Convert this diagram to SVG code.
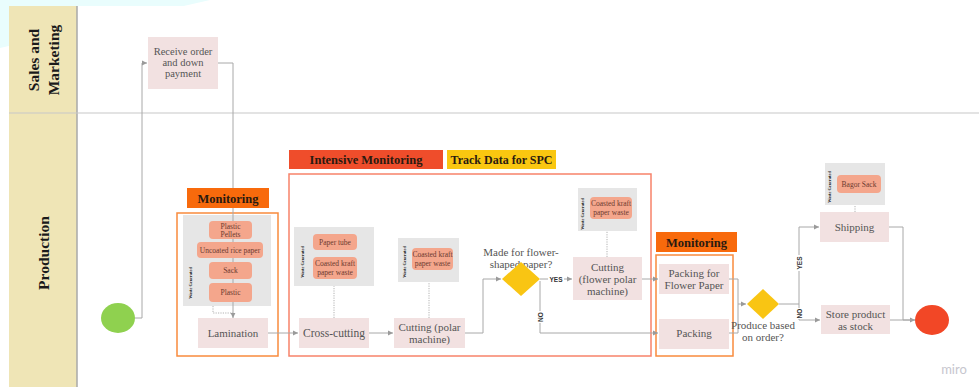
<svg xmlns="http://www.w3.org/2000/svg" width="979" height="387" viewBox="0 0 979 387">
  <defs>
    <style>
      .lane-head { fill: #efe5b6; }
      .lane-title { font-family: "Liberation Serif", serif; font-weight: bold; font-size: 15.5px; fill: #1a1a1a; text-anchor: middle; }
      .step { fill: #f2e1e1; }
      .step-text { font-family: "Liberation Serif", serif; font-size: 11px; fill: #555; text-anchor: middle; }
      .q-text { font-family: "Liberation Serif", serif; font-size: 11px; fill: #555; text-anchor: middle; }
      .waste { fill: #e6e6e6; }
      .waste-title { font-family: "Liberation Serif", serif; font-weight: bold; font-size: 4.3px; fill: #222; text-anchor: middle; }
      .item { fill: #f4a68c; }
      .item-text { font-family: "Liberation Serif", serif; font-size: 7.5px; fill: #6b3a30; text-anchor: middle; }
      .tag-text { font-family: "Liberation Serif", serif; font-weight: bold; font-size: 12.5px; fill: #2a1a10; text-anchor: middle; }
      .flow { fill: none; stroke: #a8a8a8; stroke-width: 1; }
      .dots { fill: none; stroke: #a0a0a0; stroke-width: 0.8; stroke-dasharray: 1.2 1.2; }
      .branch { font-family: "Liberation Sans", sans-serif; font-weight: bold; font-size: 6.5px; fill: #333; text-anchor: middle; }
      .decision { fill: #f9c513; }
    </style>
    <marker id="arrow" markerUnits="userSpaceOnUse" markerWidth="6" markerHeight="6" refX="5" refY="3" orient="auto">
      <path d="M0,0.6 L5,3 L0,5.4 z" fill="#9a9a9a"/>
    </marker>
  </defs>

  <!-- page backdrop -->
  <rect x="0" y="0" width="979" height="387" fill="#ffffff"/>
  <polygon points="0,0 210,0 0,48" fill="#e9fdfd"/>

  <!-- swimlanes -->
  <g id="lanes">
    <rect x="77" y="6" width="902" height="381" fill="#ffffff"/>
    <rect class="lane-head" x="9" y="6" width="68" height="381"/>
    <line x1="77" y1="6" x2="77" y2="387" stroke="#a9a9a9" stroke-width="1.5"/>
    <line x1="9" y1="113" x2="979" y2="113" stroke="#c8c8c8" stroke-width="1.2"/>
    <g transform="translate(39,60) rotate(-90)">
      <text class="lane-title" x="0" y="0">Sales and</text>
      <text class="lane-title" x="0" y="19.5">Marketing</text>
    </g>
    <text class="lane-title" transform="translate(49,253) rotate(-90)" x="0" y="0">Production</text>
  </g>

  <!-- monitoring zones -->
  <g id="zone-monitoring-1">
    <rect x="177" y="213" width="101" height="143" fill="none" stroke="#f98b3d" stroke-width="1.5"/>
  </g>
  <g id="zone-intensive">
    <rect x="289" y="174" width="362" height="182" fill="none" stroke="#f7826a" stroke-width="1.5"/>
  </g>
  <g id="zone-monitoring-2">
    <rect x="656" y="255" width="77" height="101" fill="none" stroke="#f98b3d" stroke-width="1.5"/>
  </g>

  <!-- connectors -->
  <g id="connectors">
    <path class="flow" d="M135,318 H142 V63 H147" marker-end="url(#arrow)"/>
    <path class="flow" d="M218,63 H233 V318" marker-end="url(#arrow)"/>
    <path class="flow" d="M268,333 H298" marker-end="url(#arrow)"/>
    <path class="flow" d="M369,333 H393" marker-end="url(#arrow)"/>
    <path class="flow" d="M465,333 H483 V279 H501" marker-end="url(#arrow)"/>
    <path class="flow" d="M540,279 H572" marker-end="url(#arrow)"/>
    <path class="flow" d="M540,281 V333 H658" marker-end="url(#arrow)"/>
    <path class="flow" d="M642,279 H658" marker-end="url(#arrow)"/>
    <path class="flow" d="M729,279 H738 V304 H746" marker-end="url(#arrow)"/>
    <path class="flow" d="M729,333 H738 V304"/>
    <path class="flow" d="M779,304 H799 V227 H819" marker-end="url(#arrow)"/>
    <path class="flow" d="M799,304 V320 H820" marker-end="url(#arrow)"/>
    <path class="flow" d="M889,227 H903 V320 H915" marker-end="url(#arrow)"/>
    <path class="flow" d="M890,320 H915"/>
    <!-- waste links -->
    <path class="dots" d="M213,306 V313 H233"/>
    <path class="dots" d="M334,318 V286"/>
    <path class="dots" d="M335,250 V257"/>
    <path class="dots" d="M429,318 V282"/>
    <path class="dots" d="M607,257 V231"/>
    <path class="dots" d="M855,212 V205"/>
    <!-- branch labels -->
    <rect x="548" y="275" width="16" height="8" fill="#ffffff"/>
    <text class="branch" x="556" y="281.5">YES</text>
    <rect x="536" y="311" width="8" height="12" fill="#ffffff"/>
    <text class="branch" transform="translate(542.5,317) rotate(-90)">NO</text>
    <rect x="795" y="255" width="8" height="16" fill="#ffffff"/>
    <text class="branch" transform="translate(801.5,263) rotate(-90)">YES</text>
    <rect x="795" y="308" width="8" height="11" fill="#ffffff"/>
    <text class="branch" transform="translate(801.5,313.5) rotate(-90)">NO</text>
  </g>

  <!-- tags -->
  <g id="tag-monitoring-1">
    <rect x="187" y="188" width="82" height="20" fill="#f86a0c"/>
    <text class="tag-text" x="228" y="202.5">Monitoring</text>
  </g>
  <g id="tag-intensive">
    <rect x="289" y="150" width="154" height="19" fill="#ef4d2b"/>
    <text class="tag-text" x="366" y="164">Intensive Monitoring</text>
  </g>
  <g id="tag-spc">
    <rect x="447" y="150" width="109" height="19" fill="#fac710"/>
    <text class="tag-text" x="501.5" y="164" style="font-size:12px">Track Data for SPC</text>
  </g>
  <g id="tag-monitoring-2">
    <rect x="656" y="232" width="81" height="20" fill="#f86a0c"/>
    <text class="tag-text" x="696.5" y="246.5">Monitoring</text>
  </g>

  <!-- start / end -->
  <g id="start">
    <ellipse cx="118" cy="318" rx="17" ry="15" fill="#8fd14f"/>
  </g>
  <g id="end">
    <ellipse cx="932" cy="320" rx="17" ry="15" fill="#f24726"/>
  </g>

  <!-- sales lane -->
  <g id="receive-order">
    <rect class="step" x="148" y="37" width="70" height="52"/>
    <text class="step-text" x="183" y="55" style="font-size:10.5px">Receive order</text>
    <text class="step-text" x="183" y="66" style="font-size:10.5px">and down</text>
    <text class="step-text" x="183" y="77" style="font-size:10.5px">payment</text>
  </g>

  <!-- lamination -->
  <g id="waste-lamination">
    <rect class="waste" x="183" y="215" width="88" height="91"/>
    <path class="flow" d="M233,215 V306" stroke="#b5b5b5"/>
    <text class="waste-title" transform="translate(192,283) rotate(-90)">Waste Generated</text>
    <rect class="item" x="209" y="221" width="43" height="18" rx="4"/>
    <text class="item-text" x="230.5" y="228.5">Plastic</text>
    <text class="item-text" x="230.5" y="236.5">Pellets</text>
    <rect class="item" x="197" y="242" width="66" height="16" rx="4"/>
    <text class="item-text" x="230" y="252.5">Uncoated rice paper</text>
    <rect class="item" x="209" y="262" width="43" height="17" rx="4"/>
    <text class="item-text" x="230.5" y="273">Sack</text>
    <rect class="item" x="209" y="283" width="43" height="19" rx="4"/>
    <text class="item-text" x="230.5" y="295">Plastic</text>
  </g>
  <g id="lamination">
    <rect class="step" x="198" y="318" width="70" height="30"/>
    <text class="step-text" x="233" y="337">Lamination</text>
  </g>

  <!-- cross-cutting -->
  <g id="waste-cross-cutting">
    <rect class="waste" x="294" y="227" width="80" height="59"/>
    <text class="waste-title" transform="translate(304,262) rotate(-90)">Waste Generated</text>
    <rect class="item" x="313" y="234" width="44" height="16" rx="4"/>
    <text class="item-text" x="335" y="244.5">Paper tube</text>
    <rect class="item" x="313" y="257" width="44" height="22" rx="4"/>
    <text class="item-text" x="335" y="266">Coasted kraft</text>
    <text class="item-text" x="335" y="274.5">paper waste</text>
  </g>
  <g id="cross-cutting">
    <rect class="step" x="299" y="318" width="70" height="30"/>
    <text class="step-text" x="334" y="337" style="font-size:11.5px">Cross-cutting</text>
  </g>

  <!-- cutting (polar machine) -->
  <g id="waste-cutting-polar">
    <rect class="waste" x="398" y="238" width="61" height="44"/>
    <text class="waste-title" transform="translate(406,262) rotate(-90)">Waste Generated</text>
    <rect class="item" x="412" y="248" width="41" height="22" rx="4"/>
    <text class="item-text" x="432.5" y="257">Coasted kraft</text>
    <text class="item-text" x="432.5" y="265.5">paper waste</text>
  </g>
  <g id="cutting-polar">
    <rect class="step" x="394" y="318" width="71" height="30"/>
    <text class="step-text" x="429.5" y="331">Cutting (polar</text>
    <text class="step-text" x="429.5" y="343">machine)</text>
  </g>

  <!-- flower-shaped decision -->
  <g id="decision-flower">
    <text class="q-text" x="521" y="256">Made for flower-</text>
    <text class="q-text" x="521" y="268">shaped paper?</text>
    <polygon class="decision" points="521,262 540,279 521,296 502,279"/>
  </g>

  <!-- cutting (flower polar machine) -->
  <g id="waste-cutting-flower">
    <rect class="waste" x="578" y="188" width="59" height="43"/>
    <text class="waste-title" transform="translate(584,214) rotate(-90)">Waste Generated</text>
    <rect class="item" x="590" y="197" width="42" height="22" rx="4"/>
    <text class="item-text" x="611" y="206">Coasted kraft</text>
    <text class="item-text" x="611" y="214.5">paper waste</text>
  </g>
  <g id="cutting-flower">
    <rect class="step" x="573" y="257" width="69" height="43"/>
    <text class="step-text" x="607.5" y="271">Cutting</text>
    <text class="step-text" x="607.5" y="283">(flower polar</text>
    <text class="step-text" x="607.5" y="295">machine)</text>
  </g>

  <!-- packing -->
  <g id="packing-flower">
    <rect class="step" x="659" y="264" width="70" height="30"/>
    <text class="step-text" x="694" y="277">Packing for</text>
    <text class="step-text" x="694" y="289">Flower Paper</text>
  </g>
  <g id="packing">
    <rect class="step" x="659" y="319" width="70" height="30"/>
    <text class="step-text" x="694" y="337">Packing</text>
  </g>

  <!-- order decision -->
  <g id="decision-order">
    <polygon class="decision" points="763,289 779,304 763,319 747,304"/>
    <text class="q-text" x="763" y="329">Produce based</text>
    <text class="q-text" x="763" y="341">on order?</text>
  </g>

  <!-- shipping -->
  <g id="waste-shipping">
    <rect class="waste" x="825" y="163" width="60" height="42"/>
    <text class="waste-title" transform="translate(831,187) rotate(-90)">Waste Generated</text>
    <rect class="item" x="837" y="175" width="44" height="18" rx="4"/>
    <text class="item-text" x="859" y="186.5">Bagor Sack</text>
  </g>
  <g id="shipping">
    <rect class="step" x="820" y="212" width="69" height="30"/>
    <text class="step-text" x="854.5" y="231">Shipping</text>
  </g>
  <g id="store-stock">
    <rect class="step" x="821" y="305" width="69" height="29"/>
    <text class="step-text" x="855.5" y="318">Store product</text>
    <text class="step-text" x="855.5" y="330">as stock</text>
  </g>

  <text x="954" y="374" font-family="Lato, 'Liberation Sans', sans-serif" font-size="13" fill="#c6c6ce" text-anchor="middle">miro</text>
</svg>
